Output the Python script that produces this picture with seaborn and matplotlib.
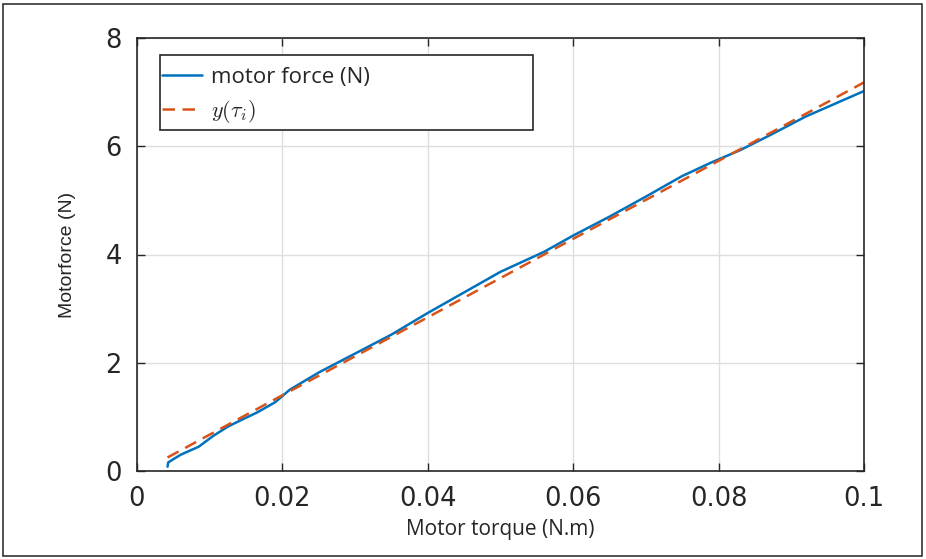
import numpy as np
import pandas as pd
import matplotlib
matplotlib.use("Agg")
import matplotlib.pyplot as plt
import seaborn as sns
from matplotlib.patches import Rectangle

# measured motor force
torque = [0.0042, 0.0043, 0.006, 0.0085, 0.0105, 0.0125, 0.014, 0.0165, 0.019, 0.021,
          0.025, 0.030, 0.035, 0.040, 0.045, 0.050, 0.056, 0.060, 0.065, 0.070,
          0.075, 0.079, 0.083, 0.087, 0.092, 0.100]
force = [0.08, 0.16, 0.30, 0.45, 0.65, 0.82, 0.92, 1.08, 1.27, 1.50,
         1.82, 2.17, 2.52, 2.92, 3.30, 3.68, 4.05, 4.35, 4.70, 5.07,
         5.45, 5.70, 5.93, 6.20, 6.55, 7.02]
# fitted model y(tau_i)
fit_torque = [0.0042, 0.020, 0.040, 0.060, 0.080, 0.100]
fit_force = [0.25, 1.40, 2.84, 4.29, 5.73, 7.18]

xticks = [0, 0.02, 0.04, 0.06, 0.08, 0.1]
xticklabels = ["0", "0.02", "0.04", "0.06", "0.08", "0.1"]
yticks = [0, 2, 4, 6, 8]

sns.set_theme(style="white")
plt.rcParams['font.family'] = ['Liberation Sans', 'DejaVu Sans']
plt.rcParams['mathtext.fontset'] = 'cm'

fig = plt.figure(figsize=(9.26, 5.59), dpi=100)
ax = fig.add_axes([137/926, 1-471/559, (864-137)/926, (471-38)/559])

df1 = pd.DataFrame({"x": torque, "y": force})
df2 = pd.DataFrame({"x": fit_torque, "y": fit_force})
sns.lineplot(data=df1, x="x", y="y", ax=ax, color="#0072BD", lw=1.8,
             label="motor force (N)", sort=False)
sns.lineplot(data=df2, x="x", y="y", ax=ax, color="#D95319", lw=1.8,
             linestyle=(0, (5, 3)), label=r"$y(\tau_i)$", sort=False)

ax.set_xlim(0, 0.1)
ax.set_ylim(0, 8)
ax.set_xticks(xticks)
ax.set_xticklabels(xticklabels, family="DejaVu Sans", fontsize=18.5)
ax.set_yticks(yticks)
ax.set_yticklabels([str(v) for v in yticks], family="DejaVu Sans", fontsize=18.5)
ax.grid(True, color="#DEDEDE", lw=1)
ax.tick_params(direction="in", length=6, width=1, colors="#262626",
               top=True, right=True, bottom=True, left=True)
ax.tick_params(axis="x", pad=11)
ax.tick_params(axis="y", pad=11)
for s in ax.spines.values():
    s.set_visible(True)
    s.set_color("#262626")
    s.set_linewidth(1.2)

ax.set_xlabel("Motor torque (N.m)", fontsize=15, family="Open Sans",
              color="#262626", labelpad=5)
ax.set_ylabel("Motorforce (N)", fontsize=14, color="#262626", labelpad=21)

leg = ax.legend(loc="upper left", bbox_to_anchor=((162-137)/727, (471-67)/433),
                prop={"family": "Open Sans", "size": 16},
                frameon=False, borderaxespad=0, borderpad=0,
                handlelength=1.8, handletextpad=0.4, labelspacing=0.45)
ax.add_patch(Rectangle(((160-137)/727, (471-130)/433), (533-160)/727, 75/433,
                       transform=ax.transAxes, fill=True, facecolor="white",
                       edgecolor="#262626", lw=1.2, zorder=4))
leg.set_zorder(5)

fig.patches.append(Rectangle((3/926, 3/559), 919/926, 552/559, transform=fig.transFigure,
                             fill=False, edgecolor="#333333", lw=1.2))

fig.savefig("out.png", dpi=100)
